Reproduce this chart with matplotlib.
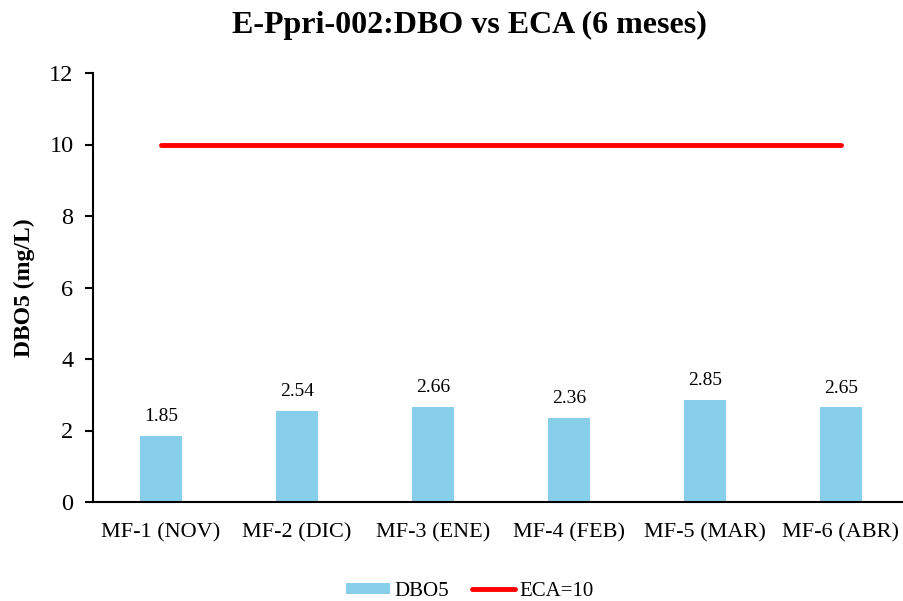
import matplotlib
matplotlib.use("Agg")
import matplotlib.pyplot as plt
import numpy as np

categories = ["MF-1 (NOV)", "MF-2 (DIC)", "MF-3 (ENE)", "MF-4 (FEB)", "MF-5 (MAR)", "MF-6 (ABR)"]
dbo5 = [1.85, 2.54, 2.66, 2.36, 2.85, 2.65]
eca = [10, 10, 10, 10, 10, 10]

plt.rcParams['font.family'] = ['Liberation Serif', 'DejaVu Serif']

fig = plt.figure(figsize=(9.04, 6.01), dpi=100)
ax = fig.add_axes([93/904, 1-502/601, (903-93)/904, (502-73)/601])
x = np.arange(len(categories))
bars = ax.bar(x, dbo5, width=0.31, color="#87CEEB", label="DBO5", zorder=2)
line, = ax.plot(x, eca, color="#FF0000", lw=3.5, label="ECA=10", solid_capstyle="round", zorder=3)
for xi, v in zip(x, dbo5):
    ax.text(xi, v + 0.3, f"{v:.2f}", ha="center", va="bottom", fontsize=14)

ax.set_ylim(0, 12)
ax.set_yticks(range(0, 13, 2))
ax.set_xlim(-0.5, -0.5 + (903-93)/136)
ax.set_xticks(x)
ax.set_xticklabels(categories, fontsize=16)
ax.tick_params(axis='x', length=0, pad=15)
ax.tick_params(axis='y', labelsize=17.5, length=6, width=1.5, direction='out', pad=8)
for s in ["top", "right"]:
    ax.spines[s].set_visible(False)
ax.spines["left"].set_linewidth(1.5)
ax.spines["bottom"].set_linewidth(1.5)
ax.set_ylabel("DBO5 (mg/L)", fontsize=17, fontweight="bold", labelpad=10)
fig.text(0.519, 0.958, "E-Ppri-002:DBO vs ECA (6 meses)", ha="center", va="center",
         fontsize=23, fontweight="bold")
fig.legend(handles=[bars, line], labels=["DBO5", "ECA=10"],
           loc="center", bbox_to_anchor=(0.52, 0.016), ncol=2, frameon=False,
           fontsize=15, handlelength=2.1, handleheight=0.5, columnspacing=1.1,
           handletextpad=0.2)
fig.savefig("out.png", dpi=100)
